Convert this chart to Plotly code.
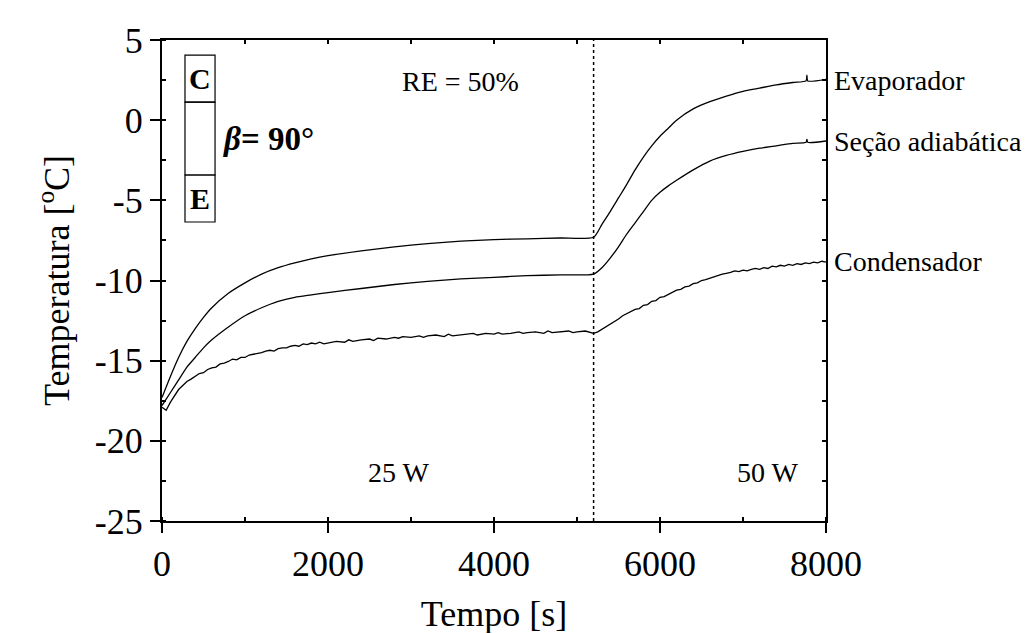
import plotly.graph_objects as go

# ---------------- data ----------------
t_evap = [0, 100, 200, 300, 400, 500, 600, 800, 1000, 1200, 1400, 1600, 1800, 2000,
          2400, 2800, 3200, 3600, 4000, 4400, 4800, 5200, 5300, 5400, 5500, 5600,
          5700, 5800, 5900, 6000, 6100, 6200, 6400, 6600, 6800, 7000, 7200, 7400,
          7600, 7760, 7770, 7780, 8000]
T_evap = [-17.3, -16.0, -14.8, -13.8, -13.0, -12.3, -11.7, -10.8, -10.15, -9.6, -9.2,
          -8.9, -8.65, -8.45, -8.15, -7.9, -7.7, -7.55, -7.45, -7.4, -7.35, -7.3, -6.5,
          -5.7, -4.85, -4.0, -3.1, -2.3, -1.6, -1.0, -0.5, 0.0, 0.7, 1.15, 1.5, 1.8,
          2.0, 2.2, 2.35, 2.45, 2.8, 2.45, 2.55]

t_adia = [0, 100, 200, 300, 400, 500, 600, 800, 1000, 1200, 1400, 1600, 1800, 2000,
          2400, 2800, 3200, 3600, 4000, 4400, 4800, 5200, 5300, 5400, 5500, 5600,
          5700, 5800, 5900, 6000, 6100, 6200, 6400, 6600, 6800, 7000, 7200, 7400,
          7600, 7760, 7770, 7780, 8000]
T_adia = [-17.8, -17.0, -16.2, -15.4, -14.8, -14.2, -13.7, -12.9, -12.2, -11.7, -11.3,
          -11.05, -10.9, -10.75, -10.5, -10.25, -10.05, -9.9, -9.8, -9.7, -9.65, -9.6,
          -9.2, -8.6, -7.9, -7.1, -6.4, -5.7, -5.0, -4.5, -4.1, -3.75, -3.1, -2.55,
          -2.2, -1.95, -1.75, -1.6, -1.45, -1.38, -1.2, -1.38, -1.3]

t_cond = [0, 50, 100, 150, 200, 250, 300, 350, 400, 450, 500, 550, 600, 650, 700, 750,
          800, 850, 900, 950, 1000, 1050, 1100, 1150, 1200, 1250, 1300, 1350, 1400, 1450,
          1500, 1550, 1600, 1650, 1700, 1750, 1800, 1850, 1900, 1950, 2000, 2100, 2200,
          2250, 2300, 2400, 2500, 2550, 2600, 2700, 2800, 2850, 2900, 3000, 3100, 3150,
          3200, 3300, 3400, 3450, 3500, 3600, 3700, 3750, 3800, 3900, 4000, 4050, 4100,
          4200, 4300, 4350, 4400, 4500, 4600, 4650, 4700, 4800, 4900, 4950, 5000, 5100,
          5200, 5250, 5300, 5350, 5400, 5450, 5500, 5550, 5600, 5650, 5700, 5750, 5800,
          5850, 5900, 5950, 6000, 6050, 6100, 6150, 6200, 6250, 6300, 6350, 6400, 6450,
          6500, 6550, 6600, 6650, 6700, 6750, 6800, 6850, 6900, 6950, 7000, 7050, 7100,
          7150, 7200, 7250, 7300, 7350, 7400, 7450, 7500, 7550, 7600, 7650, 7700, 7750,
          7800, 7850, 7900, 7950, 8000]
T_cond = [-17.9, -18.1, -17.6, -17.2, -16.8, -16.55, -16.3, -16.15, -15.95, -15.8, -15.75,
          -15.55, -15.45, -15.4, -15.2, -15.15, -15.05, -14.9, -14.95, -14.8, -14.8, -14.65,
          -14.6, -14.55, -14.5, -14.4, -14.35, -14.4, -14.25, -14.2, -14.2, -14.1, -14.05,
          -14.1, -13.95, -14.0, -13.9, -13.95, -13.85, -13.95, -13.9, -13.8, -13.85,
          -13.7, -13.8, -13.7, -13.65, -13.75, -13.6, -13.65, -13.55, -13.6, -13.5, -13.55,
          -13.45, -13.55, -13.45, -13.4, -13.5, -13.35, -13.45, -13.4, -13.35, -13.3,
          -13.4, -13.3, -13.35, -13.25, -13.35, -13.3, -13.2, -13.3, -13.25, -13.2, -13.3,
          -13.15, -13.25, -13.2, -13.15, -13.25, -13.2, -13.15, -13.3, -13.2, -13.05,
          -12.9, -12.7, -12.55, -12.4, -12.2, -12.05, -11.95, -11.8, -11.75, -11.55,
          -11.5, -11.3, -11.25, -11.05, -11.0, -10.85, -10.75, -10.6, -10.55, -10.4,
          -10.35, -10.2, -10.15, -10.0, -9.95, -9.85, -9.75, -9.7, -9.6, -9.55, -9.5,
          -9.4, -9.45, -9.35, -9.4, -9.3, -9.25, -9.3, -9.2, -9.25, -9.1, -9.15, -9.05,
          -9.1, -9.0, -9.05, -8.95, -9.0, -8.9, -8.95, -8.85, -8.9, -8.8, -8.85, -8.8]

series_names = ["Evaporador", "Seção adiabática", "Condensador"]
label_values = [2.5, -1.3, -8.8]

x_ticks = [0, 2000, 4000, 6000, 8000]
y_ticks = [5, 0, -5, -10, -15, -20, -25]
y_ticktext = ["5", "0", "-5", "-10", "-15", "-20", "-25"]
switch_time = 5200

FONT = "Liberation Serif"

fig = go.Figure()
fig.add_trace(go.Scatter(x=t_evap, y=T_evap, mode="lines", line=dict(color="black", width=1.3, shape="spline", smoothing=0.6),
                         name=series_names[0], showlegend=False))
fig.add_trace(go.Scatter(x=t_adia, y=T_adia, mode="lines", line=dict(color="black", width=1.3, shape="spline", smoothing=0.6),
                         name=series_names[1], showlegend=False))
fig.add_trace(go.Scatter(x=t_cond, y=T_cond, mode="lines", line=dict(color="black", width=1.3),
                         name=series_names[2], showlegend=False))
# helper trace to activate the top/right mirror axes
fig.add_trace(go.Scatter(x=[None], y=[None], xaxis="x2", yaxis="y2", showlegend=False, hoverinfo="skip"))

axis_common = dict(showline=True, linecolor="black", linewidth=2, showgrid=False, zeroline=False,
                   tickfont=dict(family=FONT, size=36, color="black"))

fig.update_layout(
    width=1033, height=633,
    margin=dict(l=154, r=215, t=32, b=120),
    paper_bgcolor="white", plot_bgcolor="white",
    font=dict(family=FONT, color="black"),
    xaxis=dict(range=[0, 8000], tickvals=x_ticks, ticks="outside", ticklen=10, tickwidth=2,
               tickcolor="black",
               minor=dict(ticks="inside", dtick=1000, tick0=0, ticklen=4, tickwidth=1.5, tickcolor="black"),
               title=dict(text="Tempo [s]", font=dict(family=FONT, size=36), standoff=18),
               **axis_common),
    yaxis=dict(range=[-25, 5], tickvals=y_ticks, ticktext=y_ticktext, ticks="outside", ticklen=10, tickwidth=2,
               tickcolor="black",
               minor=dict(ticks="inside", dtick=2.5, tick0=0, ticklen=4, tickwidth=1.5, tickcolor="black"),
               title=dict(text="Temperatura [<sup>o</sup>C]", font=dict(family=FONT, size=36), standoff=14),
               **axis_common),
    xaxis2=dict(range=[0, 8000], overlaying="x", side="top", showline=True, linecolor="black", linewidth=2,
                ticks="inside", dtick=1000, tick0=0, ticklen=4, tickwidth=1.5, tickcolor="black",
                showticklabels=False, showgrid=False, zeroline=False),
    yaxis2=dict(range=[-25, 5], overlaying="y", side="right", showline=True, linecolor="black", linewidth=2,
                ticks="inside", dtick=2.5, tick0=0, ticklen=4, tickwidth=1.5, tickcolor="black",
                showticklabels=False, showgrid=False, zeroline=False),
)

# dotted line at power switch
fig.add_shape(type="line", xref="x", yref="paper", x0=switch_time, x1=switch_time, y0=0, y1=1,
              line=dict(color="black", width=1.5, dash="dot"))

# curve labels to the right of the plot
for name, val in zip(series_names, label_values):
    fig.add_annotation(xref="paper", yref="y", x=1, y=val, xshift=6, text=name, showarrow=False,
                       xanchor="left", yanchor="middle", font=dict(family=FONT, size=28, color="black"))

fig.add_annotation(x=3600, y=2.4, xref="x", yref="y", text="RE = 50%", showarrow=False,
                   font=dict(family=FONT, size=28, color="black"))
fig.add_annotation(x=2850, y=-22.0, xref="x", yref="y", text="25 W", showarrow=False,
                   font=dict(family=FONT, size=28, color="black"))
fig.add_annotation(x=7300, y=-22.0, xref="x", yref="y", text="50 W", showarrow=False,
                   font=dict(family=FONT, size=28, color="black"))

# C / E column sketch
box_x = [277, 639]
box_y = [4.06, 1.13, -3.42, -6.35]
for y0, y1 in zip(box_y[:-1], box_y[1:]):
    fig.add_shape(type="rect", xref="x", yref="y", x0=box_x[0], x1=box_x[1], y0=y1, y1=y0,
                  line=dict(color="black", width=1.2))
fig.add_annotation(x=458, y=2.6, text="<b>C</b>", showarrow=False, font=dict(family=FONT, size=30, color="black"))
fig.add_annotation(x=458, y=-4.9, text="<b>E</b>", showarrow=False, font=dict(family=FONT, size=30, color="black"))
fig.add_annotation(x=700, y=-1.2, text="<b><i>β</i>= 90°</b>", showarrow=False, xanchor="left",
                   font=dict(family=FONT, size=33, color="black"))

fig.write_html("out.html")
